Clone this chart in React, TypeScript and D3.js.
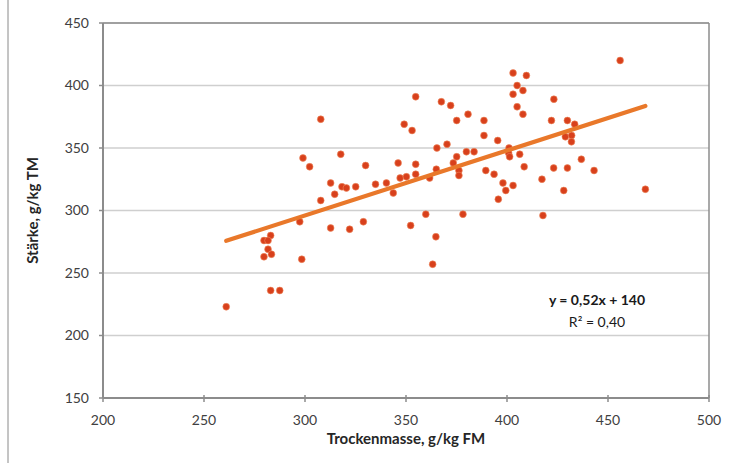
import * as d3 from "d3";

// Trockenmasse (g/kg FM)
const tmValues = [
  261, 283, 279.7, 281.7, 281.7, 279.7, 283.4, 283, 287.5, 298.4, 297.4, 299, 302.3, 307.8, 307.8,
  312.7, 314.7, 312.7, 317.7, 318.3, 320.5, 325.1, 322.1, 328.9, 330, 334.9, 340.3, 343.7, 346.1,
  347.1, 349.1, 350.2, 353, 352.3, 354.8, 354.8, 354.8, 359.8, 361.7, 363.2, 364.8, 365.3, 365,
  367.5, 370.3, 372.1, 373.4, 375.1, 375.1, 376.2, 376.2, 378.2, 379.9, 380.7, 383.7, 388.6, 388.6,
  389.5, 393.6, 395.4, 395.7, 398, 399.4, 403, 401, 400.8, 401.3, 406.3, 403, 409.6, 405, 407.9,
  403, 405, 407.9, 408.5, 417.3, 417.8, 422, 423.2, 423.1, 429.9, 433.5, 428.9, 432, 431.9, 428.1,
  429.9, 436.8, 443.1, 456, 468.5,
];

// Stärke (g/kg TM)
const starchValues = [
  223, 280, 276, 276, 269, 263, 265, 236, 236, 261, 291, 342, 335, 373, 308,
  322, 313, 286, 345, 319, 318, 319, 285, 291, 336, 321, 322, 314, 338,
  326, 369, 327, 364, 288, 391, 337, 329, 297, 326, 257, 279, 350, 333,
  387, 353, 384, 338, 343, 372, 332, 328, 297, 347, 377, 347, 372, 360,
  332, 329, 356, 309, 322, 316, 320, 350, 346, 343, 345, 410, 408, 400, 396,
  393, 383, 377, 335, 325, 296, 372, 389, 334, 372, 369, 359, 360, 355, 316,
  334, 341, 332, 420, 317,
];

const xTicks = [200, 250, 300, 350, 400, 450, 500];
const yTicks = [150, 200, 250, 300, 350, 400, 450];

const slope = 0.52;
const intercept = 140;

const W = 741;
const H = 463;
const margin = { left: 103, right: 32, top: 23, bottom: 65 };
const font = "Lato, 'Open Sans', sans-serif";

export default function App() {
  const x = d3.scaleLinear().domain([200, 500]).range([margin.left, W - margin.right]);
  const y = d3.scaleLinear().domain([150, 450]).range([H - margin.bottom, margin.top]);

  const points = tmValues.map((v, i) => ({ tm: v, st: starchValues[i] }));
  const xExt = d3.extent(tmValues) as [number, number];
  const trend = d3
    .line<number>()
    .x((d) => x(d))
    .y((d) => y(slope * d + intercept));

  const x0 = x(200);
  const x1 = x(500);
  const y0 = y(150);
  const y1 = y(450);

  return (
    <svg
      width={W}
      height={H}
      style={{ position: "absolute", left: 0, top: 0, background: "#fff" }}
      fontFamily={font}
    >
      {/* outer frame */}
      <line x1={8} x2={8} y1={0} y2={H} stroke="#8a8a8a" strokeWidth={1} />

      {/* gridlines */}
      {yTicks.map((t) => (
        <line key={"g" + t} x1={x0} x2={x1} y1={y(t)} y2={y(t)} stroke="#cfcfcf" strokeWidth={1.3} />
      ))}

      {/* plot border */}
      <line x1={x0} x2={x1} y1={y1} y2={y1} stroke="#8c8c8c" strokeWidth={1.5} />
      <line x1={x1} x2={x1} y1={y1} y2={y0} stroke="#8c8c8c" strokeWidth={1.5} />
      <line x1={x0} x2={x0} y1={y1} y2={y0} stroke="#8c8c8c" strokeWidth={2} />
      <line x1={x0} x2={x1} y1={y0} y2={y0} stroke="#8c8c8c" strokeWidth={2} />

      {/* y ticks */}
      {yTicks.map((t) => (
        <g key={"y" + t}>
          <line x1={x0 - 4} x2={x0} y1={y(t)} y2={y(t)} stroke="#8c8c8c" strokeWidth={1.5} />
          <text x={x0 - 14} y={y(t)} dy="0.35em" textAnchor="end" fontSize={14} fill="#404040">
            {t}
          </text>
        </g>
      ))}

      {/* x ticks */}
      {xTicks.map((t) => (
        <g key={"x" + t}>
          <line x1={x(t)} x2={x(t)} y1={y0 - 3} y2={y0 + 4} stroke="#8c8c8c" strokeWidth={1.5} />
          <text x={x(t)} y={y0 + 22} dy="0.35em" textAnchor="middle" fontSize={14} fill="#404040">
            {t}
          </text>
        </g>
      ))}

      {/* points */}
      {points.map((p, i) => (
        <circle key={i} cx={x(p.tm)} cy={y(p.st)} r={3.4} fill="#d8401c" stroke="#ef8a5e" strokeWidth={0.6} />
      ))}

      {/* trendline */}
      <path d={trend(xExt) ?? ""} fill="none" stroke="#e9782a" strokeWidth={4.2} strokeLinecap="round" />

      {/* equation */}
      <text x={597} y={300} dy="0.35em" textAnchor="middle" fontSize={14} fontWeight="bold" fill="#1a1a1a">
        y = 0,52x + 140
      </text>
      <text x={597} y={322} dy="0.35em" textAnchor="middle" fontSize={14} fill="#1a1a1a">
        R² = 0,40
      </text>

      {/* axis titles */}
      <text
        x={(x0 + x1) / 2}
        y={439}
        dy="0.35em"
        textAnchor="middle"
        fontSize={15}
        fontWeight="bold"
        fill="#262626"
      >
        Trockenmasse, g/kg FM
      </text>
      <text
        transform={`translate(33,${(y0 + y1) / 2}) rotate(-90)`}
        dy="0.35em"
        textAnchor="middle"
        fontSize={15}
        fontWeight="bold"
        fill="#262626"
      >
        Stärke, g/kg TM
      </text>
    </svg>
  );
}
